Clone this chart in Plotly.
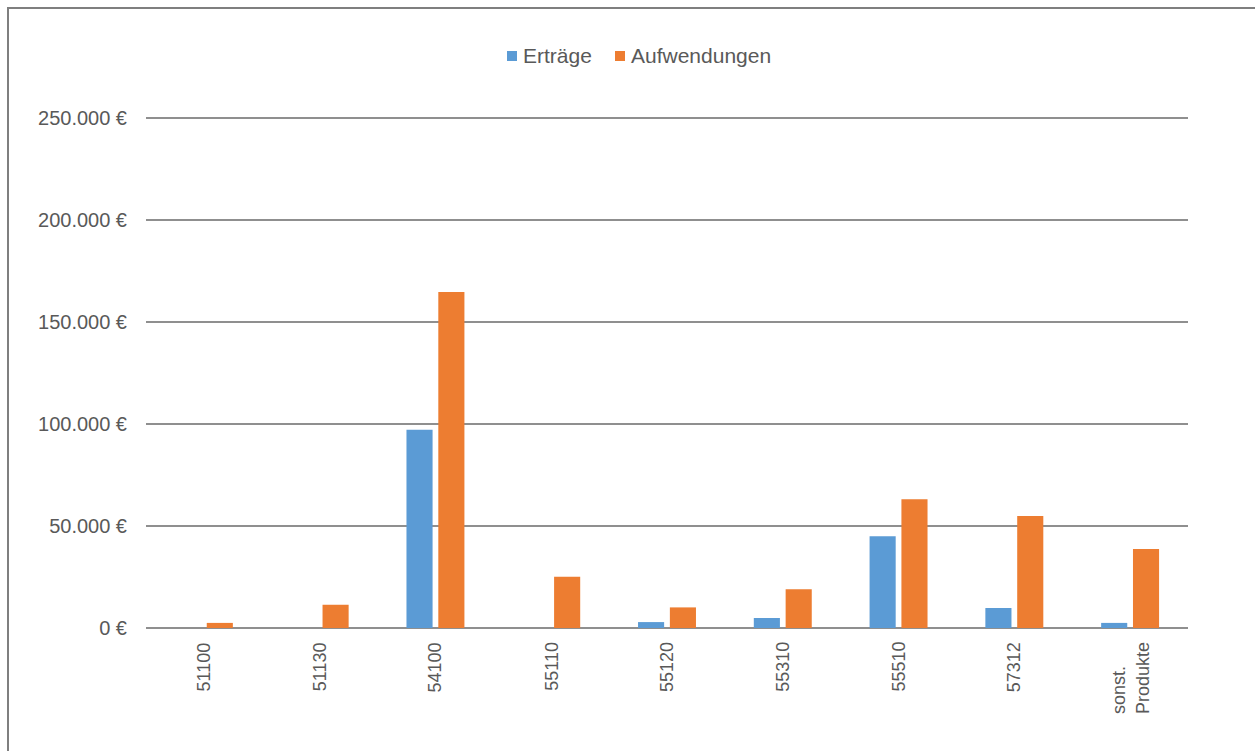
import plotly.graph_objects as go

# Produkte (Kostenstellen) und Beträge in Euro
categories = ["51100", "51130", "54100", "55110", "55120", "55310", "55510", "57312", "sonst.<br>Produkte"]
ertraege = [0, 0, 97200, 0, 2900, 4900, 45000, 9800, 2500]
aufwendungen = [2500, 11400, 164700, 25100, 10100, 19000, 63100, 54900, 38700]

y_ticks = [0, 50000, 100000, 150000, 200000, 250000]
y_tick_labels = ["0 €", "50.000 €", "100.000 €", "150.000 €", "200.000 €", "250.000 €"]

series_names = ["Erträge", "Aufwendungen"]
series_colors = ["#5b9bd5", "#ed7d31"]

FONT = "Liberation Sans, Arial, sans-serif"
TEXT_COLOR = "#595959"
GRID = "#8f8f8f"

fig = go.Figure()
for name, values, color in zip(series_names, [ertraege, aufwendungen], series_colors):
    fig.add_trace(go.Bar(name=name, x=categories, y=values, marker_color=color,
                         marker_line_width=0))

W, H = 1255, 751
L, R, T, B = 146, 67, 116, 123
pw, ph = W - L - R, H - T - B

def px_x(p):
    return (p - L) / pw

def px_y(p):
    return (H - B - p) / ph

shapes = [dict(type="rect", xref="paper", yref="paper",
               x0=px_x(8), x1=px_x(1262), y0=px_y(760), y1=px_y(8),
               line=dict(color="#7f7f7f", width=2), fillcolor="rgba(0,0,0,0)", layer="below")]
annotations = []

# Legende oben: Farbquadrat + Beschriftung
legend_items = [(507, 521), (615, 629)]
for (sq_x, txt_x), name, color in zip(legend_items, series_names, series_colors):
    shapes.append(dict(type="rect", xref="paper", yref="paper",
                       x0=px_x(sq_x), x1=px_x(sq_x + 10), y0=px_y(61), y1=px_y(51),
                       line=dict(width=0), fillcolor=color))
    annotations.append(dict(text=name, xref="paper", yref="paper", x=px_x(txt_x), y=px_y(55),
                            xanchor="left", yanchor="middle", showarrow=False,
                            font=dict(size=21, color=TEXT_COLOR, family=FONT)))

# Kategorienbeschriftung, gedreht, zeilenweise am Anfang ausgerichtet
# (Position über den Kategorienindex der Achse)
for idx, cat in enumerate(categories):
    annotations.append(dict(text=cat, xref="x", yref="paper", x=idx, y=0, yshift=-12,
                            xanchor="center", yanchor="top", textangle=-90, align="left",
                            showarrow=False, font=dict(size=18, color=TEXT_COLOR, family=FONT)))

fig.update_layout(
    width=W, height=H,
    margin=dict(l=L, r=R, t=T, b=B, pad=0),
    paper_bgcolor="white", plot_bgcolor="white",
    barmode="group", bargap=0.45, bargroupgap=0.18,
    font=dict(family=FONT, size=18, color=TEXT_COLOR),
    showlegend=False,
    xaxis=dict(type="category", range=[-0.5, len(categories) - 0.5], showticklabels=False,
               showgrid=False, showline=False, ticks="", fixedrange=True),
    yaxis=dict(range=[0, 251000], tickvals=y_ticks, ticktext=y_tick_labels,
               showgrid=True, gridcolor=GRID, gridwidth=2, zeroline=True,
               zerolinecolor=GRID, zerolinewidth=2, showline=False, ticks="",
               ticklabelstandoff=18, fixedrange=True,
               tickfont=dict(size=20, color=TEXT_COLOR)),
    shapes=shapes,
    annotations=annotations,
)

fig.write_html("out.html")
